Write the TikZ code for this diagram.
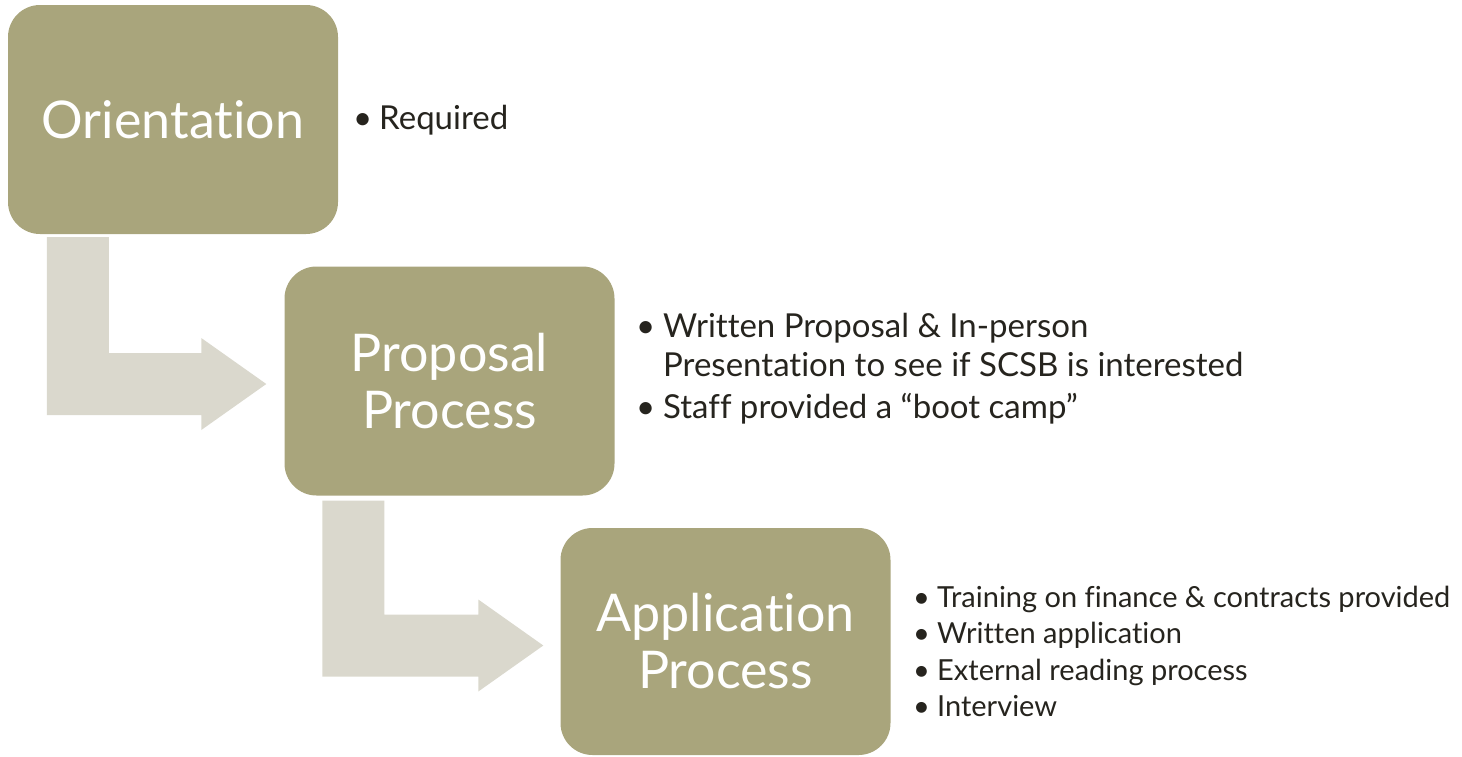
\documentclass[tikz,border=0pt]{standalone}
\usepackage{fontspec}
\setmainfont{Lato}[Ligatures=NoCommon]
\usetikzlibrary{calc}
\definecolor{stagefill}{RGB}{169,165,124}
\definecolor{flowfill}{RGB}{218,216,205}
\definecolor{bodytext}{RGB}{38,36,30}
\tikzset{
  stage/.style={fill=stagefill, rounded corners=32pt, minimum width=330pt,
    minimum height=229pt, inner sep=0pt, text=white, align=center,
    font=\fontsize{52}{57}\selectfont},
  flow/.style={fill=flowfill},
  dot/.style={anchor=base west, inner sep=0pt, text=bodytext},
  item/.style={anchor=base west, inner sep=0pt, text=bodytext},
  big/.style={font=\fontsize{33}{38}\selectfont},
  small/.style={font=\fontsize{29}{34}\selectfont}
}
\begin{document}
\begin{tikzpicture}[x=1pt,y=-1pt]
\useasboundingbox (0,0) rectangle (1462,756);

% stages
\node[stage] (orient) at (173,119.5) {Orientation};
\node[stage] (prop) at (449.5,381) {Proposal\\Process};
\node[stage, minimum height=227pt] (app) at (725.5,641.5) {Application\\Process};

% bent arrows between stages
\coordinate (s1) at ($(orient.south west)+(39,3)$);
\coordinate (t1) at ($(prop.west)+(-18,3)$);
\fill[flow] (s1) -- ++(62,0) |- ($(t1)+(-65,-31)$) -- ++(0,-15) -- (t1)
  -- ++(-65,46) -- ++(0,-15) -| (s1) -- cycle;
\coordinate (s2) at ($(prop.south west)+(38,5)$);
\coordinate (t2) at ($(app.west)+(-17,4)$);
\fill[flow] (s2) -- ++(62,0) |- ($(t2)+(-65,-31)$) -- ++(0,-15) -- (t2)
  -- ++(-65,46) -- ++(0,-15) -| (s2) -- cycle;

% notes on orientation
\node[dot, big] (b1) at (353,129) {•};
\node[item, big] (i1) at (379,129) {Required};

% notes on proposal
\node[dot, big] (b2) at (636,337) {•};
\node[item, big] (i2a) at (663,337) {Written Proposal \& In-person};
\node[item, big] (i2b) at (663,376) {Presentation to see if SCSB is interested};
\node[dot, big] (b3) at (636,418) {•};
\node[item, big] (i3) at (663,418) {Staff provided a “boot camp”};

% notes on application
\node[dot, small] (b4) at (913,607) {•};
\node[item, small] (i4) at (937,607) {Training on finance \& contracts provided};
\node[dot, small] (b5) at (913,643) {•};
\node[item, small] (i5) at (937,643) {Written application};
\node[dot, small] (b6) at (913,680) {•};
\node[item, small] (i6) at (937,680) {External reading process};
\node[dot, small] (b7) at (913,716) {•};
\node[item, small] (i7) at (937,716) {Interview};
\end{tikzpicture}
\end{document}
